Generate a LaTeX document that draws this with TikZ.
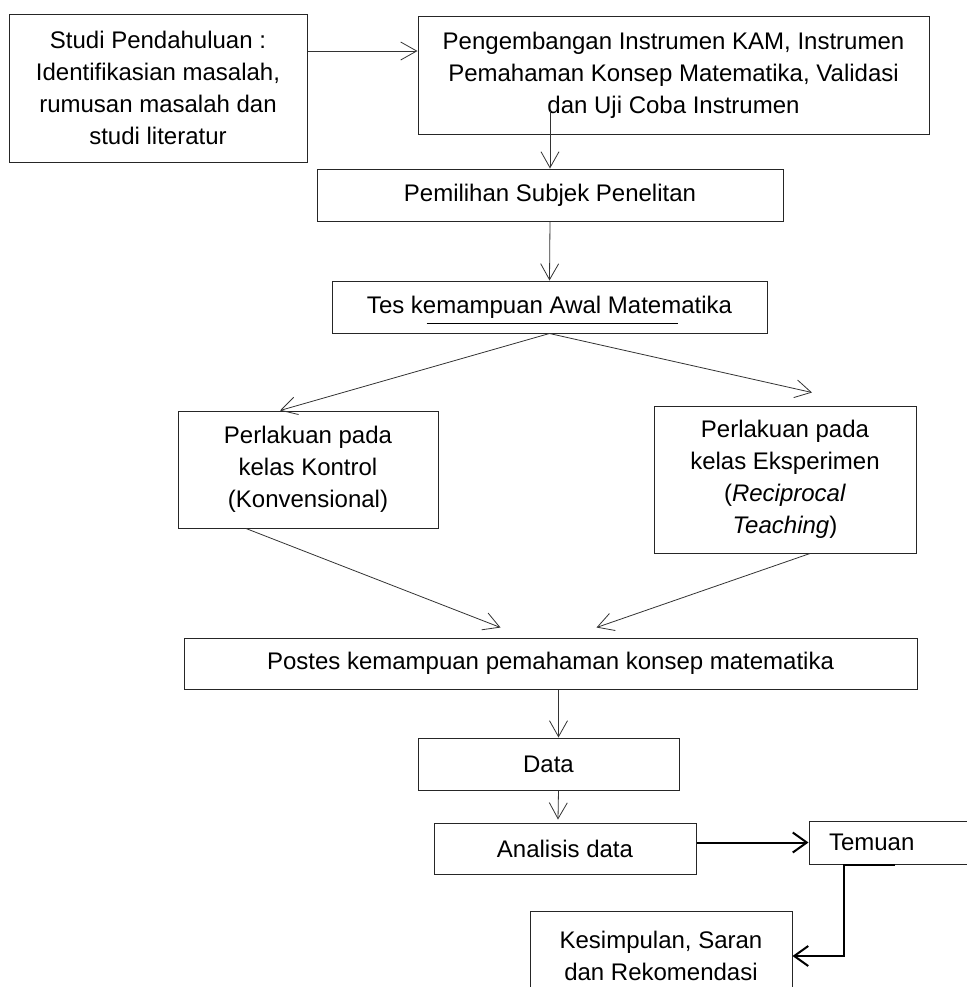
\documentclass[tikz,border=0pt]{standalone}
\usepackage{fontspec}
\setmainfont{Liberation Sans}
\usetikzlibrary{arrows.meta}

\tikzset{
	box/.style={draw=black!85, line width=0.5pt, align=center, inner sep=0pt, font=\fontsize{12}{16}\selectfont},
	arr/.style={draw=black!80, line width=0.4pt, -{Straight Barb[length=8pt,width=9pt]}},
	arrthick/.style={draw=black, line width=1pt, -{Straight Barb[length=7pt,width=10pt]}},
}

\begin{document}
\begin{tikzpicture}[x=0.5pt, y=-0.5pt]
	\useasboundingbox (0,0) rectangle (966,987);

	\node[box, minimum width=149pt, minimum height=74pt] (studi) at (158,88) {Studi Pendahuluan :\\Identifikasian masalah,\\rumusan masalah dan\\studi literatur};
	\node[box, minimum width=255.5pt, minimum height=59pt] (peng) at (673.5,75) {Pengembangan Instrumen KAM, Instrumen\\Pemahaman Konsep Matematika, Validasi\\dan Uji Coba Instrumen};
	\node[box, minimum width=233pt, minimum height=26pt] (pilih) at (550,195) {Pemilihan Subjek Penelitan};
	\node[box, minimum width=217.5pt, minimum height=26pt] (tes) at (549.5,307) {Tes kemampuan Awal Matematika};
	\node[box, minimum width=130pt, minimum height=58.5pt] (kontrol) at (308,469.5) {Perlakuan pada\\kelas Kontrol\\(Konvensional)};
	\node[box, minimum width=131pt, minimum height=73.5pt] (eksp) at (785,479.5) {Perlakuan pada\\kelas Eksperimen\\(\textit{Reciprocal}\\\textit{Teaching})};
	\node[box, minimum width=366.5pt, minimum height=25.5pt] (postes) at (550.5,663.5) {Postes kemampuan pemahaman konsep matematika};
	\node[box, minimum width=130.5pt, minimum height=26pt] (data) at (548.5,764) {Data};
	\node[box, minimum width=131pt, minimum height=25.5pt] (analisis) at (565,848.5) {Analisis data};
	\node[box, align=left, text width=63pt, inner xsep=10pt, minimum height=21.5pt] (temuan) at (892,842.5) {Temuan};
	\node[box, minimum width=131pt, minimum height=45pt] (simpulan) at (661,956) {Kesimpulan, Saran\\dan Rekomendasi};

	% garis di bawah teks tes
	\draw[black, line width=0.5pt] ([shift={(47.5pt,5pt)}]tes.south west) -- ([shift={(173pt,5pt)}]tes.south west);

	\draw[arr] ([yshift=18.5pt]studi.east) -- ([yshift=18.5pt]studi.east -| peng.west);
	\coordinate (pengout) at ([yshift=12pt]peng.south);
	\draw[arr] (pengout -| pilih.north) -- (pilih.north);
	\draw[arr] (pilih.south) -- (tes.north);

	\draw[arr] (tes.south) -- ([xshift=-14pt]kontrol.north);
	\draw[arr] (tes.south) -- ([xshift=13.5pt,yshift=6.5pt]eksp.north);
	\draw[arr] ([xshift=-31pt]kontrol.south) -- ([xshift=-25pt,yshift=5pt]postes.north);
	\draw[arr] ([xshift=12.5pt]eksp.south) -- ([xshift=23pt,yshift=5pt]postes.north);

	\draw[arr] ([xshift=4pt]postes.south) -- ([xshift=5pt]data.north);
	\draw[arr] ([xshift=5pt]data.south) -- ([xshift=-3.5pt,yshift=1.5pt]analisis.north);

	\draw[arrthick] (analisis.east |- temuan.west) -- (temuan.west);
	\draw[arrthick] ([xshift=1.5pt]temuan.south) -- ([xshift=-24pt]temuan.south) |- (simpulan.east);
\end{tikzpicture}
\end{document}
